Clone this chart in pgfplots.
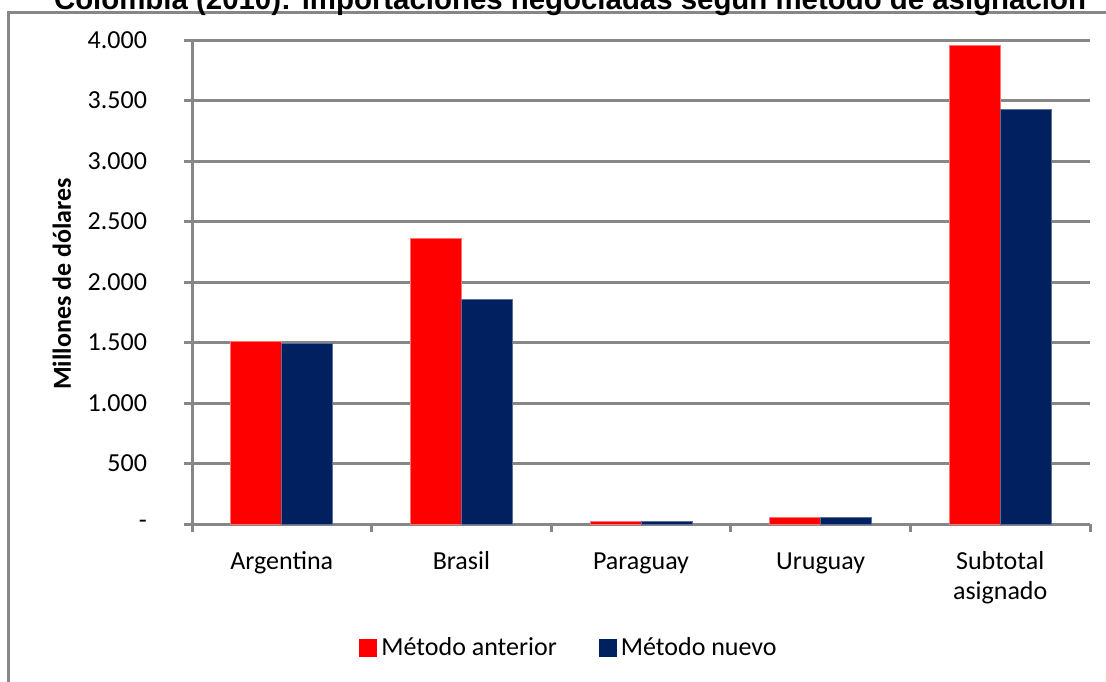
\documentclass[border=0pt]{standalone}
\usepackage{fontspec}
\setmainfont{Carlito}
\newfontfamily\titlefont{Liberation Sans}
\usepackage{pgfplots}
\pgfplotsset{compat=1.18}
\definecolor{rojo}{HTML}{FF0000}
\definecolor{azul}{HTML}{002060}
\definecolor{gris}{HTML}{878787}

\begin{document}
\begin{tikzpicture}
\useasboundingbox (-96pt,-78.5pt) rectangle (457pt,262pt);
% chart frame (right and bottom edges fall outside the page)
\draw[gris, line width=1.5pt] (-91.5pt,-100pt) -- (-91.5pt,255.6pt) -- (480pt,255.6pt);
\node[anchor=base, font=\titlefont\bfseries\fontsize{14.7}{17}\selectfont, inner sep=0pt]
  at (189pt,257.3pt) {Colombia (2010): importaciones negociadas según método de asignación};
\begin{axis}[
  at={(0,0)}, anchor=south west,
  scale only axis, width=449pt, height=242pt,
  xmin=-0.5, xmax=4.5, ymin=0, ymax=4000,
  ybar=0pt, bar width=25.5pt,
  axis x line*=bottom, axis y line*=left,
  axis line style={gris, line width=1.5pt},
  tick style={gris, line width=1.5pt},
  tick align=outside, major tick length=4pt, minor tick length=4pt,
  xtick={0,1,2,3,4},
  xticklabels={Argentina,Brasil,Paraguay,Uruguay,{\begin{tabular}[t]{@{}c@{}}Subtotal\\asignado\end{tabular}}},
  major x tick style={draw=none},
  minor xtick={-0.5,0.5,1.5,2.5,3.5,4.5},
  ytick={0,500,1000,1500,2000,2500,3000,3500,4000},
  yticklabels={-,500,1.000,1.500,2.000,2.500,3.000,3.500,4.000},
  ymajorgrids, grid style={gris, line width=1.5pt},
  x tick label style={font=\fontsize{13}{15}\selectfont, anchor=base, yshift=-18.5pt},
  y tick label style={font=\fontsize{13}{15}\selectfont, anchor=east, xshift=-15pt},
  ylabel={\bfseries Millones de dólares},
  every axis y label/.style={at={(axis description cs:-0.1448,0.496)}, rotate=90, anchor=center, font=\fontsize{13}{15}\selectfont},
  legend style={at={(axis description cs:0.421,-0.256)}, anchor=center, draw=none, fill=none,
    font=\fontsize{13}{15}\selectfont, legend columns=2,
    /tikz/every even column/.append style={column sep=19pt}},
  legend image code/.code={\fill[#1, draw=none] (0pt,-4.5pt) rectangle (9pt,4.5pt);},
]
\addplot[fill=rojo, draw=rojo!55!white, line width=0.4pt]
  coordinates {(0,1511) (1,2358) (2,20) (3,55) (4,3956)};
\addplot[fill=azul, draw=azul!65!white, line width=0.4pt]
  coordinates {(0,1494) (1,1858) (2,18) (3,52) (4,3427)};
\legend{Método anterior, Método nuevo}
\end{axis}
\end{tikzpicture}
\end{document}
